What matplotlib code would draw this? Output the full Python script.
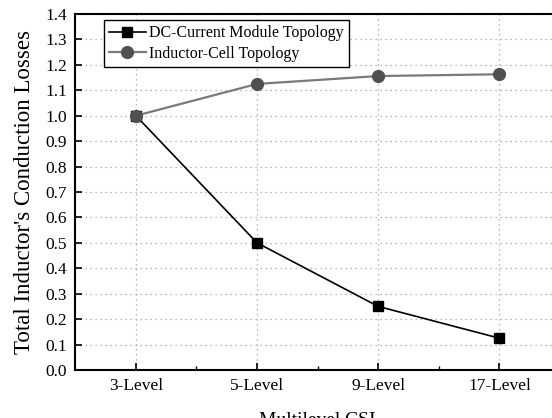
import matplotlib
matplotlib.use("Agg")
import matplotlib.pyplot as plt
from matplotlib.ticker import MultipleLocator, FixedLocator, FormatStrFormatter

categories = ["3-Level", "5-Level", "9-Level", "17-Level"]
dc_current = [1.0, 0.5, 0.25, 0.125]
inductor_cell = [1.0, 1.125, 1.156, 1.163]

plt.rcParams['font.family'] = ['Liberation Serif', 'DejaVu Serif']

W, H = 552, 418
fig = plt.figure(figsize=(W/100, H/100), dpi=100)
left, right, top, bottom = 75.3, 560.0, 14.0, 370.0
ax = fig.add_axes([left/W, (H-bottom)/H, (right-left)/W, (bottom-top)/H])

x = list(range(1, len(categories) + 1))
ax.plot(x, dc_current, color='black', lw=1.2, marker='s', markersize=7.5,
        markerfacecolor='black', markeredgecolor='black', label='DC-Current Module Topology', zorder=3)
ax.plot(x, inductor_cell, color='#7a7a7a', lw=1.6, marker='o', markersize=8.5,
        markerfacecolor='#505050', markeredgecolor='#505050', label='Inductor-Cell Topology', zorder=3)

ax.set_xlim(0.5, 4.5)
ax.set_ylim(0.0, 1.4)
ax.set_xticks(x)
ax.set_xticklabels(categories)
ax.xaxis.set_minor_locator(FixedLocator([1.5, 2.5, 3.5]))
ax.yaxis.set_major_locator(MultipleLocator(0.1))
ax.yaxis.set_major_formatter(FormatStrFormatter('%.1f'))

ax.tick_params(axis='both', which='major', direction='in', length=5, width=1.2, labelsize=12.5, colors='black')
ax.tick_params(axis='x', which='minor', direction='in', length=3, width=1.0)
ax.tick_params(axis='x', which='major', pad=6)
ax.tick_params(axis='y', which='major', pad=6)

for s in ax.spines.values():
    s.set_linewidth(1.5)

ax.grid(True, which='major', linestyle=(0, (1, 3)), color='#a0a0a0', lw=0.9)
ax.set_axisbelow(True)

ax.set_xlabel('Multilevel CSI', fontsize=14, labelpad=13)
ax.set_ylabel("Total Inductor's Conduction Losses", fontsize=16.5, labelpad=7)

ax_w, ax_h = right - left, bottom - top
leg = ax.legend(loc='upper left', bbox_to_anchor=((104-left)/ax_w, 1-(20-top)/ax_h), fontsize=11.5, frameon=True,
                fancybox=False, edgecolor='black', framealpha=1, borderpad=0.32, labelspacing=0.28,
                handlelength=2.3, handletextpad=0.2, borderaxespad=0)
leg.get_frame().set_linewidth(1.0)

fig.savefig('out.png', dpi=100)
